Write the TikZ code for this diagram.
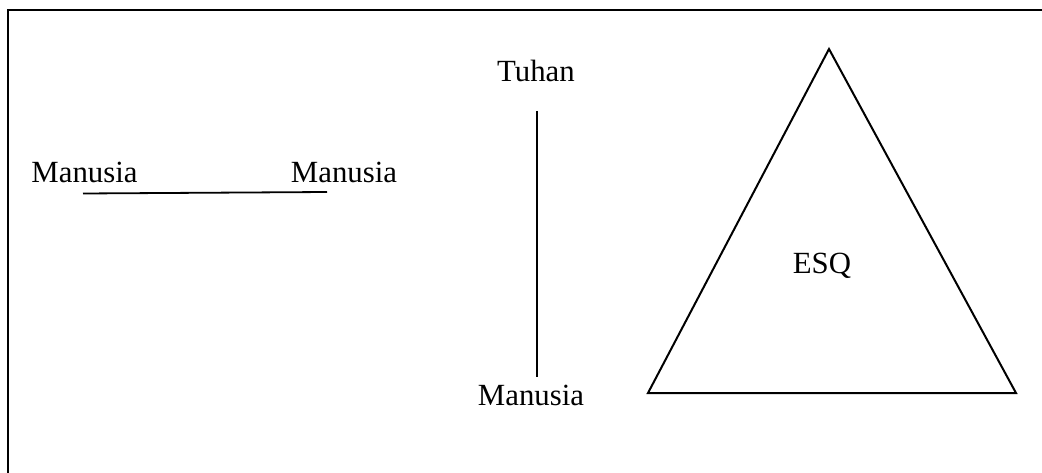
\documentclass[tikz,border=0pt]{standalone}
\usepackage{fontspec}
\setmainfont{Liberation Serif}
\begin{document}
\begin{tikzpicture}[x=1pt,y=-1pt,
  lbl/.style={inner sep=0pt, anchor=base, font=\fontsize{30.8}{36}\selectfont},
  ln/.style={line width=1.8pt, black}]
\clip (0,0) rectangle (1042,473);
\fill[white] (0,0) rectangle (1042,473);
\draw[line width=2.4pt] (8,10) rectangle (1060,490);
% left pair
\node[lbl] (m1) at (84.5,183) {Manusia};
\node[lbl] (m2) at (344,183) {Manusia};
\coordinate (h1) at (83,193.5);
\coordinate (h2) at (327,192);
\draw[ln] (h1) -- (h2);
% vertical pair
\node[lbl] (t) at (536,82) {Tuhan};
\node[lbl] (m3) at (531,405) {Manusia};
\coordinate (v1) at (537,111);
\coordinate (v2) at (537,377);
\draw[ln] (v1) -- (v2);
% triangle
\coordinate (a) at (829,49);
\coordinate (b) at (648,393);
\coordinate (c) at (1016,393);
\draw[ln, line width=2pt, line join=miter] (a) -- (b) -- (c) -- cycle;
\node[lbl] (esq) at (822,274) {ESQ};
\end{tikzpicture}
\end{document}
